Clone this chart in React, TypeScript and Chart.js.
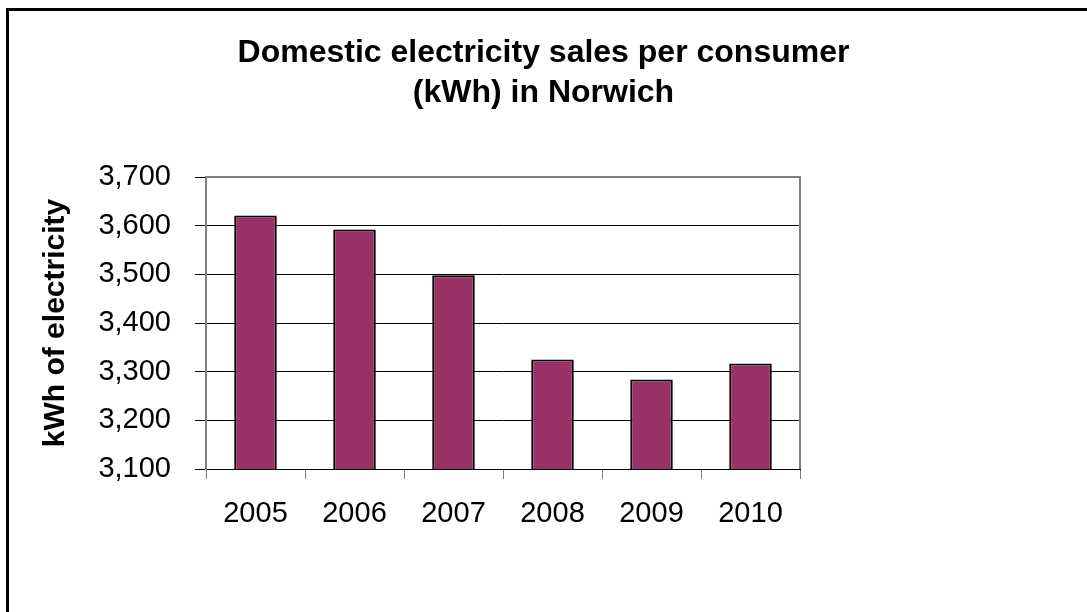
import React, { useEffect, useRef } from "react";
import { Chart, registerables } from "chart.js";

Chart.register(...registerables);

const categories = ["2005", "2006", "2007", "2008", "2009", "2010"];
const salesPerConsumer = [3621, 3592, 3498, 3325, 3284, 3317];
const titleLines = ["Domestic electricity sales per consumer", "(kWh) in Norwich"];
const yAxisTitle = "kWh of electricity";
const yMin = 3100;
const yMax = 3700;
const yStep = 100;

const FONT = "'Liberation Sans', Arial, sans-serif";

const plotBorder = {
  id: "plotBorder",
  afterDraw(chart: any) {
    const { ctx, chartArea } = chart;
    ctx.save();
    ctx.strokeStyle = "#808080";
    ctx.lineWidth = 2;
    ctx.beginPath();
    ctx.moveTo(chartArea.left, chartArea.top);
    ctx.lineTo(chartArea.right, chartArea.top);
    ctx.lineTo(chartArea.right, chartArea.bottom);
    ctx.stroke();
    ctx.restore();
  },
};

export default function App() {
  const ref = useRef<HTMLCanvasElement>(null);
  useEffect(() => {
    if (!ref.current) return;
    const chart = new Chart(ref.current, {
      type: "bar",
      data: {
        labels: categories,
        datasets: [
          {
            data: salesPerConsumer,
            backgroundColor: "#993366",
            borderColor: "#000000",
            borderWidth: 2,
            barPercentage: 0.43,
            categoryPercentage: 1,
          },
        ],
      },
      options: {
        animation: false,
        responsive: false,
        layout: { padding: 0 },
        plugins: {
          legend: { display: false },
          tooltip: { enabled: false },
          title: {
            display: true,
            text: titleLines,
            color: "#000",
            font: { family: FONT, size: 32, weight: "bold", lineHeight: 1.25 },
            padding: { top: 33, bottom: 64 },
          },
        },
        scales: {
          x: {
            afterFit: (s: any) => {
              s.height = 143;
            },
            grid: {
              offset: true,
              drawOnChartArea: false,
              drawTicks: true,
              tickLength: 10,
              color: "#808080",
            },
            border: { display: true, color: "#000", width: 1 },
            ticks: {
              color: "#000",
              padding: 18,
              font: { family: FONT, size: 29 },
            },
          },
          y: {
            min: yMin,
            max: yMax,
            afterFit: (s: any) => {
              s.width = 206;
            },
            ticks: {
              stepSize: yStep,
              color: "#000",
              padding: 24,
              font: { family: FONT, size: 29 },
              callback: (v: any) => Number(v).toLocaleString("en-US"),
            },
            grid: {
              color: "#000",
              lineWidth: 1,
              tickLength: 11,
            },
            border: { display: true, color: "#808080", width: 2 },
            title: {
              display: true,
              text: yAxisTitle,
              color: "#000",
              font: { family: FONT, size: 30, weight: "bold" },
              padding: { top: 38, bottom: 0 },
            },
          },
          y2: {
            position: "right",
            display: true,
            afterFit: (s: any) => {
              s.width = 287;
            },
            grid: { display: false, drawTicks: false },
            border: { display: false },
            ticks: { display: false },
          },
        },
      },
      plugins: [plotBorder],
    });
    return () => chart.destroy();
  }, []);

  return (
    <div
      style={{
        position: "fixed",
        left: 0,
        top: 0,
        width: 1087,
        height: 612,
        overflow: "hidden",
        background: "#fff",
      }}
    >
      <div
        style={{
          position: "absolute",
          left: 6,
          top: 8,
          width: 2000,
          height: 2000,
          border: "3px solid #000",
        }}
      />
      <canvas
        ref={ref}
        width={1087}
        height={612}
        style={{ position: "absolute", left: 0, top: 0, width: 1087, height: 612 }}
      />
    </div>
  );
}
